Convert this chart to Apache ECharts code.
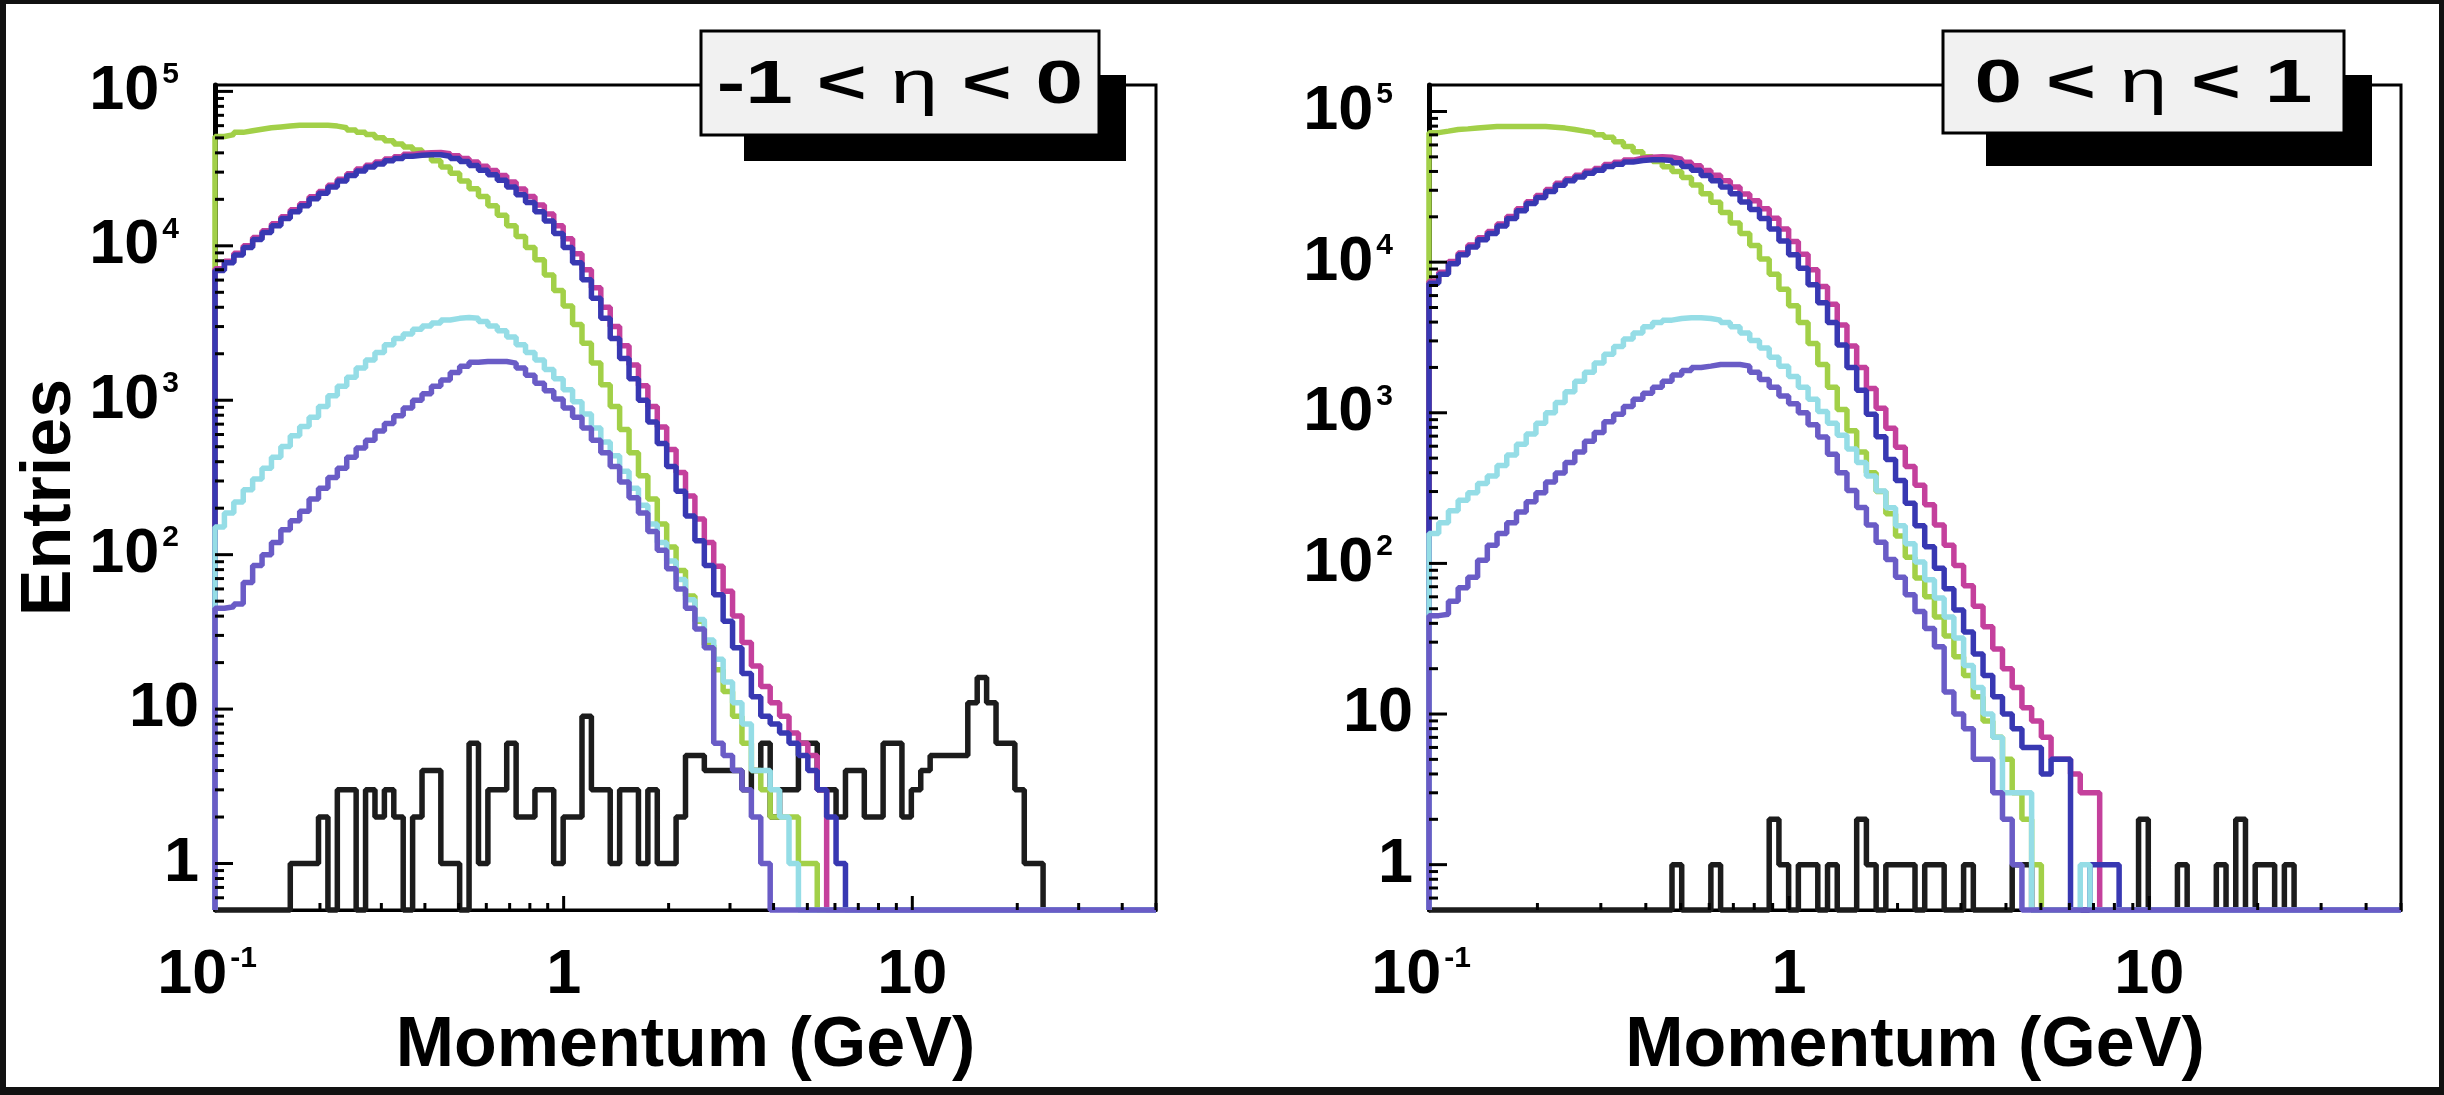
<!DOCTYPE html>
<html>
<head>
<meta charset="utf-8">
<script src="https://cdn.jsdelivr.net/npm/echarts@6/dist/echarts.min.js"></script>
<style>
  html, body { margin: 0; padding: 0; background: #fff; }
  #chart { width: 2444px; height: 1095px; }
</style>
</head>
<body>
<div id="chart"></div>
<script>
// Momentum spectra (entries per log-momentum bin) in two pseudorapidity windows.
// Binning: 100 logarithmic bins between 0.1 and 50 GeV.
const nBins = 100;
const pMin = 0.1;
const pMax = 50;
const etaLabels = ['-1 < η < 0', '0 < η < 1'];
const xAxisTitle = 'Momentum (GeV)';
const yAxisTitle = 'Entries';
const yRanges = [[0.5, 1.1e5], [0.5, 1.5e5]];
const xMajorTicks = [1, 10];
const yMajorTicks = [1, 10, 100, 1000, 10000, 100000];

// ---- -1 < eta < 0 ----
const greenNeg = [
  51000, 52500, 54300, 55600, 56900, 58200, 58900, 59600, 60300, 60300,
  60300, 60300, 59600, 58200, 56200, 54300, 52500, 50100, 47900, 45700,
  43600, 41700, 38900, 35500, 32400, 29500, 26300, 23400, 20900, 18200,
  15800, 13500, 11500, 9770, 8130, 6460, 5130, 4070, 3090, 2340,
  1740, 1260, 912, 646, 457, 324, 229, 158, 112, 79,
  54, 37, 26, 18, 13, 9, 6, 4, 3, 2,
  2, 2, 1, 1
];
const magentaNeg = [
  7100, 7950, 8950, 10000, 11300, 12500, 13900, 15400, 17100, 18700,
  20800, 22500, 24700, 27000, 29300, 31400, 33300, 34900, 36500, 37800,
  39100, 39800, 40100, 40200, 39500, 38300, 36800, 34900, 32800, 30700,
  28500, 25900, 23300, 20900, 18400, 16100, 13500, 11100, 8900, 7000,
  5350, 4000, 3000, 2250, 1690, 1240, 910, 670, 480, 340,
  240, 170, 120, 84, 58, 40, 27, 19, 14, 11,
  9, 7, 6, 5, 3
];
const blueNeg = [
  6920, 7760, 8710, 9770, 11000, 12200, 13500, 15000, 16600, 18200,
  20200, 21900, 24000, 26300, 28500, 30500, 32400, 33900, 35500, 36700,
  38000, 38600, 38900, 38900, 38000, 36700, 35100, 33100, 30900, 28800,
  26600, 24000, 21400, 19100, 16600, 14500, 12000, 9770, 7760, 6030,
  4570, 3390, 2510, 1860, 1380, 1000, 724, 525, 372, 257,
  178, 123, 85, 55, 37, 25, 17, 12, 9, 8,
  7, 6, 5, 4, 3, 2, 1
];
const cyanNeg = [
  151, 186, 219, 263, 309, 363, 427, 501, 589, 676,
  776, 912, 1070, 1230, 1410, 1620, 1820, 2040, 2290, 2510,
  2690, 2880, 3020, 3160, 3310, 3390, 3430, 3390, 3240, 3020,
  2820, 2570, 2290, 2040, 1820, 1580, 1380, 1170, 977, 813,
  661, 537, 437, 347, 269, 209, 158, 120, 91, 69,
  51, 38, 28, 21, 15, 11, 8, 4, 4, 3,
  2, 1
];
const purpleNeg = [
  45, 46, 48, 66, 85, 100, 120, 145, 166, 191,
  229, 269, 316, 363, 427, 490, 550, 631, 708, 794,
  891, 1000, 1100, 1230, 1350, 1510, 1660, 1760, 1780, 1780,
  1780, 1740, 1620, 1450, 1290, 1150, 1020, 891, 776, 661,
  550, 457, 372, 295, 234, 186, 141, 107, 81, 60,
  45, 33, 25, 6, 5, 4, 3, 2, 1
];
const blackNeg = [
  0, 0, 0, 0, 0, 0, 0, 0, 1, 1,
  1, 2, 0, 3, 3, 0, 3, 2, 3, 2,
  0, 2, 4, 4, 1, 1, 0, 6, 1, 3,
  3, 6, 2, 2, 3, 3, 1, 2, 2, 9,
  3, 3, 1, 3, 3, 1, 3, 1, 1, 2,
  5, 5, 4, 4, 4, 4, 3, 4, 6, 2,
  3, 3, 6, 6, 3, 3, 2, 4, 4, 2,
  2, 6, 6, 2, 3, 4, 5, 5, 5, 5,
  11, 16, 11, 6, 6, 3, 1, 1, 0, 0,
  0, 0, 0, 0, 0, 0, 0, 0, 0, 0
];

// ---- 0 < eta < 1 ----
const greenPos = [
  72400, 74100, 75900, 76700, 77600, 78500, 79400, 79400, 79400, 79400,
  79400, 79400, 78500, 77600, 75900, 74100, 72400, 70000, 67600, 63000,
  58500, 54000, 50000, 46500, 43000, 40000, 36500, 32500, 28500, 25000,
  21400, 18200, 15500, 12900, 10500, 8320, 6610, 5130, 3980, 2880,
  2090, 1480, 1050, 760, 550, 400, 300, 214, 152, 110,
  80, 60, 44, 33, 24, 18, 13, 9, 7, 5,
  3, 2, 1
];
const magentaPos = [
  7460, 8570, 10100, 11500, 13000, 14500, 16000, 17900, 20100, 22600,
  25200, 27700, 30400, 33400, 35700, 37800, 40100, 41900, 44500, 46000,
  47600, 49000, 49800, 50000, 49700, 48300, 46000, 43600, 40600, 37800,
  34700, 31600, 28300, 25600, 22600, 19600, 16600, 13700, 11300, 8920,
  6900, 5250, 3830, 2780, 2000, 1450, 1070, 790, 590, 440,
  330, 245, 180, 132, 97, 71, 52, 38, 27, 20,
  15, 11, 9, 7, 5, 5, 4, 3, 3
];
const bluePos = [
  7240, 8320, 9770, 11200, 12600, 14100, 15500, 17400, 19500, 21900,
  24500, 26900, 29500, 32400, 34700, 36700, 38900, 40700, 43200, 44700,
  46200, 47300, 47900, 47900, 47300, 45700, 43200, 40700, 37600, 34700,
  31600, 28500, 25100, 22400, 19500, 16600, 13800, 11200, 9120, 7080,
  5370, 3980, 2820, 2000, 1410, 977, 692, 490, 355, 251,
  178, 129, 93, 68, 49, 35, 25, 18, 13, 10,
  8, 6, 6, 4, 5, 5, 0, 0, 1, 1,
  1
];
const cyanPos = [
  158, 186, 224, 263, 295, 339, 380, 447, 525, 617,
  724, 851, 1000, 1170, 1380, 1620, 1860, 2140, 2450, 2750,
  3090, 3390, 3720, 3980, 4120, 4220, 4270, 4270, 4220, 4120,
  3980, 3720, 3390, 3020, 2690, 2340, 2040, 1740, 1480, 1230,
  1020, 851, 708, 575, 468, 380, 302, 234, 178, 135,
  102, 78, 59, 44, 32, 21, 15, 10, 7, 3,
  3, 3, 0, 0, 0, 0, 0, 1
];
const purplePos = [
  45, 46, 56, 69, 81, 105, 132, 158, 186, 219,
  257, 295, 347, 398, 468, 550, 646, 741, 871, 977,
  1100, 1230, 1350, 1480, 1620, 1780, 1910, 2000, 2040, 2090,
  2090, 2090, 2040, 1860, 1660, 1480, 1290, 1150, 1000, 832,
  690, 530, 400, 305, 235, 180, 138, 106, 81, 62,
  48, 37, 28, 14, 10, 8, 5, 5, 3, 2,
  1
];
const blackPos = [
  0, 0, 0, 0, 0, 0, 0, 0, 0, 0,
  0, 0, 0, 0, 0, 0, 0, 0, 0, 0,
  0, 0, 0, 0, 0, 1, 0, 0, 0, 1,
  0, 0, 0, 0, 0, 2, 1, 0, 1, 1,
  0, 1, 0, 0, 2, 1, 0, 1, 1, 1,
  0, 1, 1, 0, 0, 1, 0, 0, 0, 0,
  1, 1, 0, 0, 0, 0, 0, 0, 0, 0,
  0, 0, 0, 2, 0, 0, 0, 1, 0, 0,
  0, 1, 0, 2, 0, 1, 1, 0, 1, 0,
  0, 0, 0, 0, 0, 0, 0, 0, 0, 0
];

const FONT = "'Liberation Sans', Arial, Helvetica, sans-serif";
const lineColors = {
  black: '#1c1c1c',
  green: '#a2d048',
  magenta: '#c4409c',
  blue: '#3838b2',
  cyan: '#95dde6',
  purple: '#6a5cc6'
};
const drawOrder = ['black', 'green', 'magenta', 'blue', 'cyan', 'purple'];

const panels = [
  { eta: etaLabels[0], yRange: yRanges[0],
    grid: { left: 215, top: 85, width: 941, height: 825 },
    box: { x: 701, y: 31, w: 398, h: 104 }, shadow: { x: 744, y: 75, w: 382, h: 86 },
    counts: { black: blackNeg, green: greenNeg, magenta: magentaNeg, blue: blueNeg, cyan: cyanNeg, purple: purpleNeg } },
  { eta: etaLabels[1], yRange: yRanges[1],
    grid: { left: 1429, top: 85, width: 972, height: 825 },
    box: { x: 1943, y: 31, w: 401, h: 102 }, shadow: { x: 1986, y: 75, w: 386, h: 91 },
    counts: { black: blackPos, green: greenPos, magenta: magentaPos, blue: bluePos, cyan: cyanPos, purple: purplePos } }
];

// logarithmic bin edges
const edges = [];
for (let i = 0; i <= nBins; i++) edges.push(pMin * Math.pow(pMax / pMin, i / nBins));

// minor tick positions (2..9 within each decade)
const xMinorTicks = [];
const yMinorTicks = [];
for (let d = -1; d <= 1; d++) for (let m = 2; m <= 9; m++) {
  const v = m * Math.pow(10, d);
  if (v <= pMax) xMinorTicks.push(v);
}
for (let d = -1; d <= 4; d++) for (let m = 2; m <= 9; m++) {
  const v = m * Math.pow(10, d);
  if (v > 0.5) yMinorTicks.push(v);
}

// histogram outline as a step line; empty bins sit on the bottom of the frame
function stepData(counts, floor) {
  const val = (i) => { const c = counts[i] || 0; return c > 0 ? c : floor; };
  const pts = [[edges[0], floor]];
  for (let i = 0; i < nBins; i++) pts.push([edges[i], val(i)]);
  pts.push([edges[nBins], val(nBins - 1)]);
  return pts;
}

function powerLabel(v) {
  const e = Math.round(Math.log10(v));
  if (Math.abs(Math.log10(v) - e) > 1e-6) return '';
  if (e === 0) return '{b|1}';
  if (e === 1) return '{b|10}';
  return '{b|10}{s|' + e + '}';
}

function labelRich(supPadRight) {
  return {
    b: { fontFamily: FONT, fontWeight: 'bold', fontSize: 63, color: '#000' },
    s: { fontFamily: FONT, fontWeight: 'bold', fontSize: 30, color: '#000', verticalAlign: 'top',
         padding: [0, supPadRight, 0, 3] }
  };
}

const grids = [], xAxes = [], yAxes = [], series = [], graphics = [];

panels.forEach((pn, k) => {
  const [yMin, yMax] = pn.yRange;
  grids.push(Object.assign({ show: true, borderColor: '#000', borderWidth: 3, backgroundColor: '#fff' }, pn.grid));
  xAxes.push({
    type: 'log', logBase: 10, gridIndex: k, min: pMin, max: pMax,
    name: xAxisTitle, nameLocation: 'middle', nameGap: 100,
    nameTextStyle: { fontFamily: FONT, fontWeight: 'bold', fontSize: 70, color: '#000' },
    axisLine: { show: true, lineStyle: { color: '#000', width: 3 } },
    axisTick: { show: false }, splitLine: { show: false }, minorTick: { show: false },
    axisLabel: { margin: 34, formatter: powerLabel, rich: labelRich(16), showMaxLabel: false }
  });
  yAxes.push({
    type: 'log', logBase: 10, gridIndex: k, min: yMin, max: yMax,
    name: k === 0 ? yAxisTitle : '', nameLocation: 'middle', nameGap: 118, nameRotate: 90,
    nameTextStyle: { fontFamily: FONT, fontWeight: 'bold', fontSize: 70, color: '#000' },
    axisLine: { show: true, lineStyle: { color: '#000', width: 5 } },
    axisTick: { show: false }, splitLine: { show: false }, minorTick: { show: false },
    axisLabel: { margin: 16, formatter: powerLabel, rich: labelRich(20), showMinLabel: false, showMaxLabel: false }
  });

  drawOrder.forEach((key) => {
    series.push({
      type: 'line', xAxisIndex: k, yAxisIndex: k, step: 'end',
      data: stepData(pn.counts[key], yMin),
      showSymbol: false, symbol: 'none', silent: true, clip: false,
      lineStyle: { color: lineColors[key], width: 5.5 },
      z: 2
    });
  });

  // tick marks drawn on top of the histograms
  const xt = xMajorTicks.map(v => [v, yMin, 14]).concat(xMinorTicks.map(v => [v, yMin, 7]));
  series.push({
    type: 'custom', xAxisIndex: k, yAxisIndex: k, silent: true, z: 5,
    encode: { x: 0, y: 1 }, data: xt,
    renderItem: (params, api) => {
      const p = api.coord([api.value(0), api.value(1)]);
      return { type: 'line', shape: { x1: p[0], y1: p[1], x2: p[0], y2: p[1] - api.value(2) },
               style: { stroke: '#000', lineWidth: 3 } };
    }
  });
  const yt = yMajorTicks.filter(v => v < yMax).map(v => [pMin, v, 18])
    .concat(yMinorTicks.filter(v => v < yMax).map(v => [pMin, v, 9]));
  series.push({
    type: 'custom', xAxisIndex: k, yAxisIndex: k, silent: true, z: 5,
    encode: { x: 0, y: 1 }, data: yt,
    renderItem: (params, api) => {
      const p = api.coord([api.value(0), api.value(1)]);
      return { type: 'line', shape: { x1: p[0], y1: p[1], x2: p[0] + api.value(2), y2: p[1] },
               style: { stroke: '#000', lineWidth: 3 } };
    }
  });

  // pseudorapidity label box with drop shadow
  graphics.push({ type: 'rect', z: 100, shape: { x: pn.shadow.x, y: pn.shadow.y, width: pn.shadow.w, height: pn.shadow.h },
                  style: { fill: '#000' } });
  graphics.push({ type: 'rect', z: 101, shape: { x: pn.box.x, y: pn.box.y, width: pn.box.w, height: pn.box.h },
                  style: { fill: '#f1f1f1', stroke: '#000', lineWidth: 3 } });
  const parts = pn.eta.split('η');
  graphics.push({
    type: 'text', z: 102, x: pn.box.x + pn.box.w / 2, y: pn.box.y + pn.box.h / 2 + 3, scaleX: 1.38,
    style: {
      text: '{b|' + parts[0] + '}{e|η}{b|' + parts[1] + '}',
      textAlign: 'center', textVerticalAlign: 'middle', align: 'center', verticalAlign: 'middle',
      rich: {
        b: { fontFamily: FONT, fontWeight: 'bold', fontSize: 62, fill: '#000' },
        e: { fontFamily: FONT, fontWeight: 'normal', fontSize: 62, fill: '#000' }
      }
    }
  });
});

// outer frame
graphics.push({ type: 'rect', z: 110, shape: { x: 0, y: 0, width: 2444, height: 4 }, style: { fill: '#111' } });
graphics.push({ type: 'rect', z: 110, shape: { x: 0, y: 0, width: 6, height: 1095 }, style: { fill: '#111' } });
graphics.push({ type: 'rect', z: 110, shape: { x: 0, y: 1087, width: 2444, height: 8 }, style: { fill: '#111' } });
graphics.push({ type: 'rect', z: 110, shape: { x: 2439, y: 0, width: 5, height: 1095 }, style: { fill: '#111' } });

const chart = echarts.init(document.getElementById('chart'), null, { renderer: 'canvas' });
chart.setOption({
  animation: false,
  backgroundColor: '#fff',
  grid: grids,
  xAxis: xAxes,
  yAxis: yAxes,
  series: series,
  graphic: graphics
});
</script>
</body>
</html>
